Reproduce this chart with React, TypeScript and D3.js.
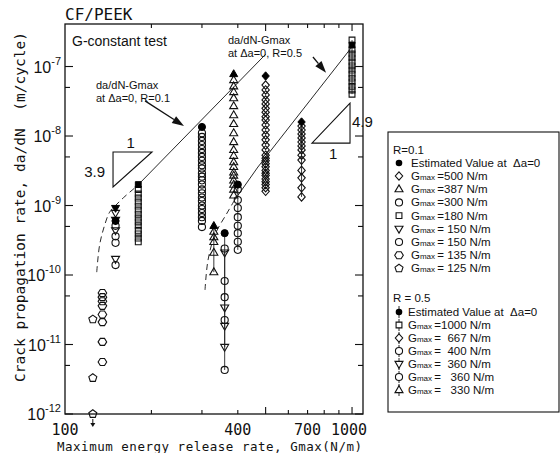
import React from "react";
import * as d3 from "d3";

// axis ticks
const xTickLabels = [100, 400, 700, 1000];
const xTicks = [200, 300, 400, 500, 600, 700, 800, 900, 1000];
const xLongTicks = [500, 1000];
const yDecades = [-12, -11, -10, -9, -8, -7];
const yMinor = [5e-12, 5e-11, 5e-10, 5e-9, 5e-8];

// R = 0.1 series
const r01Gmax = [500, 387, 300, 180, 150, 150, 135, 125];
const r01Shapes = ["diamond", "triangle", "circle", "square", "triDown", "circle", "hexagon", "pentagon"];
const r01Estimated = [7.3e-8, 7.8e-8, 1.35e-8, 2.0e-9, 9.2e-10, 6.0e-10, null, null];
const r01Rates = [
  [5.4e-8, 4.6e-8, 3.9e-8, 3.3e-8, 2.9e-8, 2.5e-8, 2.2e-8, 1.9e-8, 1.7e-8, 1.44e-8, 1.22e-8, 1.03e-8, 8.8e-9, 7.4e-9, 6.3e-9, 5.3e-9, 4.8e-9, 4.4e-9, 4.0e-9, 3.6e-9, 3.2e-9, 2.9e-9, 2.7e-9, 2.4e-9, 2.2e-9, 2.0e-9, 1.8e-9, 1.6e-9],
  [6.4e-8, 5.2e-8, 4.3e-8, 3.5e-8, 2.7e-8, 2.0e-8, 1.49e-8, 1.1e-8, 8.2e-9, 6.3e-9, 5.2e-9, 4.2e-9, 3.6e-9, 3.0e-9, 2.7e-9, 2.3e-9, 2.0e-9, 1.7e-9, 1.4e-9],
  [1.1e-8, 9.7e-9, 8.5e-9, 7.4e-9, 6.5e-9, 5.7e-9, 5.0e-9, 4.4e-9, 3.8e-9, 3.4e-9, 2.9e-9, 2.6e-9, 2.3e-9, 2.0e-9, 1.7e-9, 1.5e-9, 1.3e-9, 1.16e-9, 1.0e-9, 8.9e-10, 7.8e-10, 6.8e-10, 6.0e-10, 4.9e-10],
  [1.7e-9, 1.46e-9, 1.28e-9, 1.12e-9, 9.8e-10, 8.6e-10, 7.5e-10, 6.6e-10, 5.8e-10, 5.1e-10, 4.4e-10, 3.9e-10, 3.4e-10, 3.0e-10],
  [7.8e-10, 6.2e-10, 4.4e-10, 1.7e-10],
  [5.1e-10, 3.6e-10, 2.9e-10, 1.39e-10],
  [5.5e-11, 4.8e-11, 4.2e-11, 3.6e-11, 2.7e-11, 2.1e-11, 1.09e-11, 5.6e-12],
  [2.3e-11, 3.3e-12, 1.0e-12],
];

// R = 0.5 series
const r05Gmax = [1000, 667, 400, 360, 360, 330];
const r05Shapes = ["square", "diamond", "circle", "triDown", "circle", "triangle"];
const r05Estimated = [2.04e-7, 1.59e-8, 2.0e-9, null, 4.0e-10, 5.1e-10];
const r05Rates = [
  [2.4e-7, 1.73e-7, 1.51e-7, 1.33e-7, 1.16e-7, 1.02e-7, 8.9e-8, 7.8e-8, 6.8e-8, 6.0e-8, 5.2e-8, 4.6e-8, 4.0e-8],
  [1.39e-8, 1.22e-8, 1.07e-8, 9.4e-9, 8.2e-9, 7.2e-9, 6.3e-9, 5.3e-9, 4.5e-9, 3.2e-9, 2.5e-9, 1.8e-9, 1.33e-9],
  [1.7e-9, 1.2e-9, 9.2e-10, 6.8e-10, 5.1e-10, 4.0e-10, 3.0e-10, 2.3e-10],
  [2.1e-10, 3.4e-11, 1.85e-11, 9.2e-12],
  [2.4e-10, 8.2e-11, 4.8e-11, 2.25e-11, 4.3e-12],
  [4.2e-10, 3.5e-10, 3.0e-10, 2.1e-10, 1.1e-10],
];

// da/dN-Gmax lines at delta a = 0
const r01LineDashed: [number, number][] = [[129, 1.1e-10], [132, 2.7e-10], [137, 5.0e-10], [143, 8.0e-10], [150, 1.0e-9], [160, 1.3e-9], [178, 1.9e-9]];
const r01LineSolid: [number, number][] = [[178, 1.9e-9], [251.6, 8.2e-9], [500, 1.5e-7]];
const r05LineDashed: [number, number][] = [[307.5, 6.1e-11], [315, 1.64e-10], [333, 3.8e-10], [367, 7.8e-10], [390, 1.2e-9]];
const r05LineSolid: [number, number][] = [[390, 1.2e-9], [470, 3.58e-9], [1024, 2.18e-7]];

// slope triangles and arrows (data units)
const slopeTri1: [number, number][] = [[147, 5.9e-9], [201, 5.9e-9], [147, 1.85e-9]];
const slopeTri2: [number, number][] = [[984, 2.98e-8], [984, 7.9e-9], [725, 7.9e-9]];
const arrows: [number, number][][] = [
  [[190, 3.2e-8], [259.8, 1.39e-8]],
  [[731, 1.37e-7], [812, 8.1e-8]],
];

const r01Legend = ["=500 N/m", "=387 N/m", "=300 N/m", "=180 N/m", "= 150 N/m", "= 150 N/m", "= 135 N/m", "= 125 N/m"];
const r05Legend = ["=1000 N/m", "=  667 N/m", "=  400 N/m", "=  360 N/m", "=   360 N/m", "=   330 N/m"];

function shapePath(shape: string): string {
  switch (shape) {
    case "circle": return d3.symbol(d3.symbolCircle, 40)() as string;
    case "square": return d3.symbol(d3.symbolSquare, 34)() as string;
    case "diamond": return "M0,-4.2L3.7,0L0,4.2L-3.7,0Z";
    case "triangle": return "M0,-4.3L4,2.6L-4,2.6Z";
    case "triDown": return "M0,4.3L4,-2.6L-4,-2.6Z";
    case "hexagon": return "M-4.3,0L-2.1,-3.5L2.1,-3.5L4.3,0L2.1,3.5L-2.1,3.5Z";
    case "pentagon": return "M0,-4.2L4,-1.3L2.5,3.4L-2.5,3.4L-4,-1.3Z";
  }
  return "";
}

const sans = "'Liberation Sans', Arial, sans-serif";
const mono = "'DejaVu Sans Mono', monospace";

export default function App() {
  const x = d3.scaleLog().domain([100, 1092]).range([65, 363]);
  const y = d3.scaleLog().domain([1e-12, 4.09e-7]).range([414, 24]);
  const [x0, x1] = x.range();
  const [y0, y1] = y.range();
  const line = d3.line<[number, number]>().x(d => x(d[0])).y(d => y(d[1]));
  const curve = d3.line<[number, number]>().x(d => x(d[0])).y(d => y(d[1])).curve(d3.curveCatmullRom);

  const points = (gs: number[], shapes: string[], rates: number[][], est: (number | null)[], stem: boolean) =>
    gs.map((g, i) => {
      const vals = rates[i].concat(est[i] != null ? [est[i] as number] : []);
      const ext = d3.extent(vals) as [number, number];
      return (
        <g key={`${g}-${i}`}>
          {stem && <line x1={x(g)} x2={x(g)} y1={y(ext[1])} y2={y(ext[0])} stroke="#222" strokeWidth={0.9} />}
          {rates[i].map((v, j) => (
            <path key={j} d={shapePath(shapes[i])} transform={`translate(${x(g)},${y(v)})`} fill="none" stroke="#111" strokeWidth={1.1} />
          ))}
          {est[i] != null && (
            <path d={shapePath(shapes[i])} transform={`translate(${x(g)},${y(est[i] as number)})`} fill="#000" stroke="#000" strokeWidth={1} />
          )}
        </g>
      );
    });

  const triPath = (t: [number, number][]) => "M" + t.map(p => `${x(p[0])},${y(p[1])}`).join("L") + "Z";

  const lowest = r01Rates[7][r01Rates[7].length - 1];

  return (
    <svg width={560} height={453} style={{ position: "absolute", left: 0, top: 0, background: "#fff" }}>
      <rect width={560} height={453} fill="#fff" />
      {/* frame */}
      <rect x={x0} y={y1} width={x1 - x0} height={y0 - y1} fill="none" stroke="#111" strokeWidth={1.3} />
      {/* x ticks bottom and top */}
      {xTicks.map(t => {
        const len = xLongTicks.includes(t) ? 7 : 4;
        return (
          <g key={t}>
            <line x1={x(t)} x2={x(t)} y1={y0} y2={y0 - len} stroke="#111" strokeWidth={1.1} />
            <line x1={x(t)} x2={x(t)} y1={y1} y2={y1 + len} stroke="#111" strokeWidth={1.1} />
          </g>
        );
      })}
      {xTickLabels.map(t => (
        <text key={t} x={x(t) - (t === 1000 ? 3 : 0)} y={435} textAnchor="middle" fontFamily={mono} fontSize={15} fill="#111">{t}</text>
      ))}
      {/* y ticks */}
      {yDecades.map(e => (
        <g key={e}>
          <line x1={x0} x2={x0 + 8} y1={y(Math.pow(10, e))} y2={y(Math.pow(10, e))} stroke="#111" strokeWidth={1.1} />
          <line x1={x1} x2={x1 - 8} y1={y(Math.pow(10, e))} y2={y(Math.pow(10, e))} stroke="#111" strokeWidth={1.1} />
          <text x={61} y={y(Math.pow(10, e)) + 6} textAnchor="end" fontFamily={sans} fontSize={16} fill="#111">
            10<tspan dy={-8} fontSize={11}>{e}</tspan>
          </text>
        </g>
      ))}
      {yMinor.map(v => (
        <g key={v}>
          <line x1={x0} x2={x0 + 5} y1={y(v)} y2={y(v)} stroke="#111" strokeWidth={1.1} />
          <line x1={x1} x2={x1 - 5} y1={y(v)} y2={y(v)} stroke="#111" strokeWidth={1.1} />
        </g>
      ))}
      {/* titles */}
      <text x={65} y={20} fontFamily={mono} fontSize={16} fill="#111">CF/PEEK</text>
      <text x={57} y={451} fontFamily={mono} fontSize={12.5} textLength={305} fill="#111" style={{ whiteSpace: "pre" }}>Maximum energy release rate, Gmax(N/m)</text>
      <text transform="translate(25,207) rotate(-90)" textAnchor="middle" fontFamily={mono} fontSize={14.5} textLength={350} fill="#111" style={{ whiteSpace: "pre" }}>Crack propagation rate, da/dN  (m/cycle)</text>
      <text x={72} y={46} fontFamily={sans} fontSize={14} fill="#111">G-constant test</text>

      {/* annotation text */}
      <text x={96} y={89} fontFamily={sans} fontSize={11} fill="#111">da/dN-Gmax</text>
      <text x={96} y={102} fontFamily={sans} fontSize={11} fill="#111">at Δa=0, R=0.1</text>
      <text x={228} y={44} fontFamily={sans} fontSize={11} fill="#111">da/dN-Gmax</text>
      <text x={228} y={57} fontFamily={sans} fontSize={11} fill="#111">at Δa=0, R=0.5</text>

      {/* lines */}
      <path d={curve(r01LineDashed) as string} fill="none" stroke="#111" strokeWidth={0.9} strokeDasharray="6,4" />
      <path d={line(r01LineSolid) as string} fill="none" stroke="#111" strokeWidth={0.9} />
      <path d={curve(r05LineDashed) as string} fill="none" stroke="#111" strokeWidth={0.9} strokeDasharray="6,4" />
      <path d={line(r05LineSolid) as string} fill="none" stroke="#111" strokeWidth={0.9} />

      {/* arrows */}
      {arrows.map((a, i) => {
        const ax = x(a[0][0]), ay = y(a[0][1]), bx = x(a[1][0]), by = y(a[1][1]);
        const ang = Math.atan2(by - ay, bx - ax);
        const hl = 12, hw = 4;
        const cx = bx - hl * Math.cos(ang), cy = by - hl * Math.sin(ang);
        const px = -Math.sin(ang) * hw, py = Math.cos(ang) * hw;
        return (
          <g key={i}>
            <line x1={ax} y1={ay} x2={cx} y2={cy} stroke="#111" strokeWidth={1.3} />
            <path d={`M${bx},${by}L${cx + px},${cy + py}L${cx - px},${cy - py}Z`} fill="#111" />
          </g>
        );
      })}

      {/* slope triangles */}
      <path d={triPath(slopeTri1)} fill="none" stroke="#111" strokeWidth={1.1} />
      <text x={(x(slopeTri1[0][0]) + x(slopeTri1[1][0])) / 2 - 6} y={y(slopeTri1[0][1]) - 4} fontFamily={sans} fontSize={15} fill="#111">1</text>
      <text x={x(slopeTri1[0][0]) - 8} y={y(slopeTri1[2][1]) - 10} textAnchor="end" fontFamily={sans} fontSize={15} fill="#111">3.9</text>
      <path d={triPath(slopeTri2)} fill="none" stroke="#111" strokeWidth={1.1} />
      <text x={x(slopeTri2[0][0]) + 2} y={y(slopeTri2[0][1]) + 24} fontFamily={sans} fontSize={15} fill="#111">4.9</text>
      <text x={(x(slopeTri2[0][0]) + x(slopeTri2[2][0])) / 2 - 2} y={y(slopeTri2[1][1]) + 16} fontFamily={sans} fontSize={15} fill="#111">1</text>

      {/* data */}
      {points(r01Gmax, r01Shapes, r01Rates, r01Estimated, false)}
      {points(r05Gmax, r05Shapes, r05Rates, r05Estimated, true)}
      {/* below-range marker */}
      <line x1={x(125)} x2={x(125)} y1={y(lowest) + 5} y2={y(lowest) + 11} stroke="#111" strokeWidth={1} />
      <path d={`M${x(125) - 2.5},${y(lowest) + 9}L${x(125) + 2.5},${y(lowest) + 9}L${x(125)},${y(lowest) + 13}Z`} fill="#111" />

      {/* legend */}
      <rect x={388} y={132} width={171} height={280} fill="#fff" stroke="#111" strokeWidth={1.1} />
      <text x={393} y={154} fontFamily={sans} fontSize={11.5} fill="#111">R=0.1</text>
      <circle cx={399} cy={163} r={3.3} fill="#000" />
      <text x={411} y={167} fontFamily={sans} fontSize={11.5} fill="#111" style={{ whiteSpace: "pre" }}>Estimated Value at  Δa=0</text>
      {r01Legend.map((s, i) => {
        const cy = 176 + i * 13.2;
        return (
          <g key={i}>
            <path d={shapePath(r01Shapes[i])} transform={`translate(399,${cy})`} fill="none" stroke="#111" strokeWidth={1.1} />
            <text x={411} y={cy + 4} fontFamily={sans} fontSize={11.5} fill="#111" style={{ whiteSpace: "pre" }}>
              G<tspan fontSize={8}>max </tspan>{s}
            </text>
          </g>
        );
      })}
      <text x={393} y={302} fontFamily={sans} fontSize={11.5} fill="#111">R = 0.5</text>
      <line x1={399} x2={399} y1={306} y2={318} stroke="#111" strokeWidth={0.9} />
      <circle cx={399} cy={312} r={3.3} fill="#000" />
      <text x={408} y={316} fontFamily={sans} fontSize={11.5} fill="#111" style={{ whiteSpace: "pre" }}>Estimated Value at  Δa=0</text>
      {r05Legend.map((s, i) => {
        const cy = 325 + i * 13;
        return (
          <g key={i}>
            <line x1={399} x2={399} y1={cy - 6} y2={cy + 6} stroke="#111" strokeWidth={0.9} />
            <path d={shapePath(r05Shapes[i])} transform={`translate(399,${cy})`} fill="#fff" stroke="#111" strokeWidth={1.1} />
            <text x={408} y={cy + 4} fontFamily={sans} fontSize={11.5} fill="#111" style={{ whiteSpace: "pre" }}>
              G<tspan fontSize={8}>max </tspan>{s}
            </text>
          </g>
        );
      })}
    </svg>
  );
}
